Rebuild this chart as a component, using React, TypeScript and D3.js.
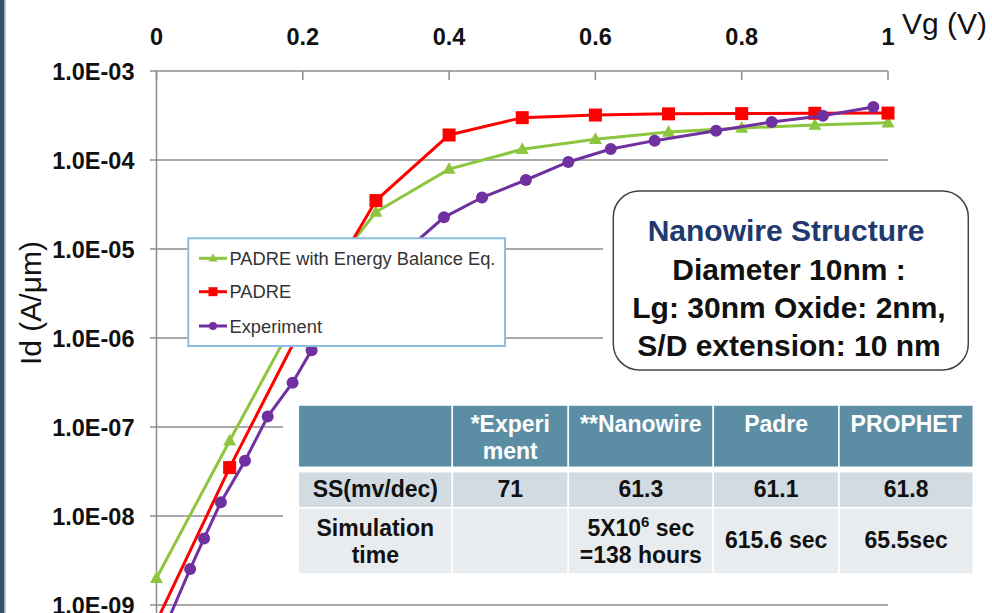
import React from 'react'
import * as d3 from 'd3'

// simulation sweep (Vg in V)
const vgSim = [0, 0.1, 0.2, 0.3, 0.4, 0.5, 0.6, 0.7, 0.8, 0.9, 1.0]
const padreEB = [2.0e-9, 7.0e-8, 2.3e-6, 2.6e-5, 7.9e-5, 1.32e-4, 1.71e-4, 2.06e-4, 2.29e-4, 2.47e-4, 2.62e-4]
const padre = [6.5e-10, 3.5e-8, 1.4e-6, 3.5e-5, 1.91e-4, 2.99e-4, 3.2e-4, 3.3e-4, 3.32e-4, 3.35e-4, 3.37e-4]

// measured points
const vgExp = [0.015, 0.046, 0.065, 0.088, 0.121, 0.152, 0.186, 0.212, 0.25, 0.29, 0.33, 0.35, 0.393, 0.445, 0.505, 0.563, 0.621, 0.681, 0.765, 0.841, 0.911, 0.98]
const experiment = [6.5e-10, 2.54e-9, 5.6e-9, 1.43e-8, 4.18e-8, 1.31e-7, 3.15e-7, 7.3e-7, 1.81e-6, 3.94e-6, 8.1e-6, 1.11e-5, 2.27e-5, 3.79e-5, 5.96e-5, 9.5e-5, 1.33e-4, 1.65e-4, 2.13e-4, 2.67e-4, 3.15e-4, 3.94e-4]

const xTicks = [0, 0.2, 0.4, 0.6, 0.8, 1]
const xTickLabels = ['0', '0.2', '0.4', '0.6', '0.8', '1']
const yTicks = [1e-3, 1e-4, 1e-5, 1e-6, 1e-7, 1e-8, 1e-9]
const yTickLabels = ['1.0E-03', '1.0E-04', '1.0E-05', '1.0E-06', '1.0E-07', '1.0E-08', '1.0E-09']

const legendNames = ['PADRE with Energy Balance Eq.', 'PADRE', 'Experiment']

const tableHead = [[''], ['*Experi', 'ment'], ['**Nanowire'], ['Padre'], ['PROPHET']]
const ssRow = ['SS(mv/dec)', '71', '61.3', '61.1', '61.8']
const simRow = [['Simulation', 'time'], [], ['5X10^6 sec', '=138 hours'], ['615.6 sec'], ['65.5sec']]

const boxLines = ['Diameter 10nm :', 'Lg: 30nm Oxide: 2nm,', 'S/D extension: 10 nm']

const FONT = 'Liberation Sans, Arial, sans-serif'
const GREEN = '#8cc63e'
const RED = '#ff0000'
const PURPLE = '#7030a0'

const x = d3.scaleLinear().domain([0, 1]).range([156.5, 888])
const y = d3.scaleLog().domain([1e-9, 1e-3]).range([605, 71])

function Marker({ kind, cx, cy, s }: { kind: string; cx: number; cy: number; s: number }) {
  if (kind === 'tri') {
    const h = s * 0.9
    return <path d={`M${cx},${cy - h * 0.6}L${cx + s / 2},${cy + h * 0.4}L${cx - s / 2},${cy + h * 0.4}Z`} fill={GREEN} />
  }
  if (kind === 'sq') return <rect x={cx - s / 2} y={cy - s / 2} width={s} height={s} fill={RED} />
  return <circle cx={cx} cy={cy} r={s / 2} fill={PURPLE} />
}

export default function App() {
  const line = d3.line<[number, number]>().x(d => x(d[0])).y(d => y(d[1]))
  const series = [
    { kind: 'tri', color: GREEN, pts: vgSim.map((v, i) => [v, padreEB[i]] as [number, number]), s: 13 },
    { kind: 'sq', color: RED, pts: vgSim.map((v, i) => [v, padre[i]] as [number, number]), s: 13 },
    { kind: 'dot', color: PURPLE, pts: vgExp.map((v, i) => [v, experiment[i]] as [number, number]), s: 12 },
  ]

  const colX = [298.3, 452.3, 568.3, 713.3, 839, 973.3]
  const rowY = [405, 467.3, 471.7, 507.7, 574]
  const cx = (i: number) => (colX[i] + colX[i + 1]) / 2

  const renderSim = (txt: string, xx: number, yy: number, k: number) => {
    if (txt.includes('^')) {
      const [a, rest] = txt.split('^')
      return (
        <text key={k} x={xx} y={yy} textAnchor="middle">
          {a}
          <tspan dy={-9} fontSize={15}>{rest[0]}</tspan>
          <tspan dy={9}>{rest.slice(1)}</tspan>
        </text>
      )
    }
    return <text key={k} x={xx} y={yy} textAnchor="middle">{txt}</text>
  }

  return (
    <div>
      <style>{'body{margin:0}'}</style>
      <svg width={992} height={613} style={{ display: 'block', overflow: 'hidden' }} fontFamily={FONT}>
        <rect width={992} height={613} fill="#fff" />
        <rect x={0} y={0} width={4.5} height={613} fill="#2f5266" />
        <rect x={4.5} y={0} width={1.2} height={613} fill="#9fb6c4" />

        {/* grid */}
        {yTicks.map((t, i) => (
          <line key={i} x1={150} x2={888} y1={y(t)} y2={y(t)} stroke="#8c8c8c" strokeWidth={1.5} />
        ))}
        <line x1={x(0)} x2={x(0)} y1={71} y2={613} stroke="#8c8c8c" strokeWidth={1.5} />
        {xTicks.map((t, i) => (
          <line key={i} x1={x(t)} x2={x(t)} y1={71} y2={80} stroke="#8c8c8c" strokeWidth={1.5} />
        ))}

        {/* axis labels */}
        <g fontWeight="bold" fontSize={23.5} fill="#111">
          {xTicks.map((t, i) => (
            <text key={i} x={x(t)} y={44.5} textAnchor="middle">{xTickLabels[i]}</text>
          ))}
          {yTicks.map((t, i) => (
            <text key={i} x={134.5} y={y(t) + 8.5} textAnchor="end">{yTickLabels[i]}</text>
          ))}
        </g>
        <text x={902} y={33.5} fontSize={30} fill="#111">Vg (V)</text>
        <text transform="translate(40.5,303) rotate(-90)" textAnchor="middle" fontSize={30} fill="#111">Id (A/μm)</text>

        {/* curves */}
        {series.map((s, i) => (
          <g key={i}>
            <path d={line(s.pts) || ''} fill="none" stroke={s.color} strokeWidth={3} />
            {s.pts.map((p, j) => (
              <Marker key={j} kind={s.kind} cx={x(p[0])} cy={y(p[1])} s={s.s} />
            ))}
          </g>
        ))}

        {/* legend */}
        <rect x={188.3} y={238.3} width={316.7} height={107.7} fill="#fff" stroke="#8dbde0" strokeWidth={2} />
        {legendNames.map((n, i) => {
          const ly = [258.3, 291.7, 326][i]
          const s = series[i]
          return (
            <g key={i}>
              <line x1={199} x2={227} y1={ly} y2={ly} stroke={s.color} strokeWidth={3} />
              <Marker kind={s.kind} cx={213} cy={ly} s={s.kind === 'dot' ? 8 : 9} />
              <text x={229.5} y={ly + 6.5} fontSize={18.3} fill="#333">{n}</text>
            </g>
          )
        })}

        {/* structure box */}
        <rect x={603} y={184} width={372} height={192} fill="#fff" />
        <rect x={613.3} y={191} width={355} height={179} rx={26} fill="#fff" stroke="#444" strokeWidth={1.5} />
        <text x={786} y={241} textAnchor="middle" fontSize={30} fontWeight="bold" fill="#1f3a6e">Nanowire Structure</text>
        {boxLines.map((t, i) => (
          <text key={i} x={789} y={279.5 + i * 38.3} textAnchor="middle" fontSize={30} fontWeight="bold" fill="#111">{t}</text>
        ))}

        {/* table */}
        <rect x={283} y={398} width={700} height={182} fill="#fff" />
        <g fontWeight="bold" fontSize={23}>
          {tableHead.map((h, i) => (
            <g key={i}>
              <rect x={colX[i]} y={rowY[0]} width={colX[i + 1] - colX[i]} height={rowY[1] - rowY[0]} fill="#5b8ea4" stroke="#fff" strokeWidth={1.5} />
              {h.map((t, k) => (
                <text key={k} x={cx(i)} y={432 + k * 27} textAnchor="middle" fill="#fff">{t}</text>
              ))}
            </g>
          ))}
          {ssRow.map((t, i) => (
            <g key={i}>
              <rect x={colX[i]} y={rowY[2]} width={colX[i + 1] - colX[i]} height={rowY[3] - rowY[2]} fill="#d2dbe2" stroke="#fff" strokeWidth={1.5} />
              <text x={cx(i)} y={497.3} textAnchor="middle" fill="#111">{t}</text>
            </g>
          ))}
          {simRow.map((lines, i) => (
            <g key={i} fill="#111">
              <rect x={colX[i]} y={rowY[3]} width={colX[i + 1] - colX[i]} height={rowY[4] - rowY[3]} fill="#e8ecef" stroke="#fff" strokeWidth={1.5} />
              {lines.map((t, k) =>
                renderSim(t, cx(i), lines.length === 1 ? 548.3 : 535.7 + k * 27.6, k)
              )}
            </g>
          ))}
        </g>
      </svg>
    </div>
  )
}
